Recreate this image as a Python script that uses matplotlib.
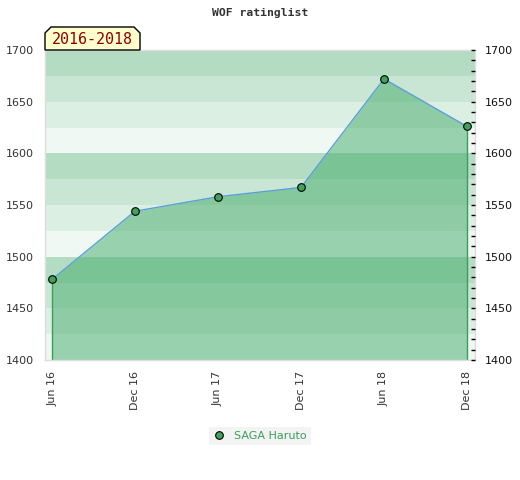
import matplotlib.pyplot as plt
from matplotlib.patches import Polygon
from matplotlib.ticker import MultipleLocator

# datos del grafico
periodos = ['Jun 16', 'Dec 16', 'Jun 17', 'Dec 17', 'Jun 18', 'Dec 18']
rating = [1478, 1544, 1558, 1567, 1672, 1626]
jugador = 'SAGA Haruto'
titulo = 'WOF ratinglist'
etiqueta = '2016-2018'

# colores de las franjas (de abajo hacia arriba en cada bloque de 100)
franjas = ['#eff8f2', '#dcefe3', '#c8e6d3', '#b3dcc2']

fig = plt.figure(figsize=(5.2, 4.8), dpi=100)
ax = fig.add_axes([45 / 520, 1 - 360 / 480, 430 / 520, 310 / 480])

ymin, ymax = 1400, 1700
for i, y0 in enumerate(range(ymin, ymax, 25)):
    ax.axhspan(y0, y0 + 25, color=franjas[i % 4], lw=0, zorder=0)

x = list(range(len(periodos)))
ax.fill_between(x, rating, ymin, color='#43ab69', alpha=0.5, lw=0, zorder=1)
ax.vlines([x[0], x[-1]], ymin, [rating[0], rating[-1]], color='#3a9e5a', lw=1, zorder=2)
ax.plot(x, rating, color='#5b9fd8', lw=1, zorder=3)
ax.plot(x, rating, 'o', color='#3fa35f', mec='black', mew=0.8, ms=5.5, zorder=4,
        label=jugador)

ax.set_xlim(-0.085, 5.096)
ax.set_ylim(ymin, ymax)
ax.set_xticks(x)
ax.set_xticklabels(periodos, rotation=90, fontsize=8, color='#333333')
ax.tick_params(axis='x', length=0, pad=8)
ax.yaxis.set_major_locator(MultipleLocator(50))
ax.tick_params(axis='y', length=0, labelsize=8, labelcolor='#333333', pad=8)
for s in ax.spines.values():
    s.set_color('#dddddd')
    s.set_linewidth(1)

# eje derecho
ax2 = ax.twinx()
ax2.set_ylim(ymin, ymax)
ax2.yaxis.set_major_locator(MultipleLocator(50))
ax2.yaxis.set_minor_locator(MultipleLocator(10))
ax2.tick_params(axis='y', which='both', direction='in', length=3, width=1,
                labelsize=8, labelcolor='#111111', pad=7)
for s in ax2.spines.values():
    s.set_visible(False)

fig.text(0.5, 1 - 13 / 480, titulo, ha='center', va='center', fontsize=8.2,
         family='DejaVu Sans Mono', fontweight='bold', color='#333333')

# cuadro de la etiqueta con esquinas cortadas
pts = [(45, 50), (45, 33), (51, 27), (134, 27), (140, 33), (140, 50)]
pts = [(px / 520, 1 - py / 480) for px, py in pts]
fig.patches.append(Polygon(pts, closed=True, transform=fig.transFigure,
                           facecolor='#ffffcc', edgecolor='black', lw=1, zorder=5))
fig.text(92.5 / 520, 1 - 40 / 480, etiqueta, ha='center', va='center', fontsize=10.8,
         family='DejaVu Sans Mono', color='#8b0000', zorder=6)

leg = fig.legend(loc='center', bbox_to_anchor=(260 / 520, 1 - 436 / 480), fontsize=8,
                 frameon=True, fancybox=False, handletextpad=0.8, borderpad=0.4,
                 handlelength=1)
leg.get_frame().set_facecolor('#f0f0f0')
leg.get_frame().set_edgecolor('none')
for t in leg.get_texts():
    t.set_color('#3a9e5a')

fig.savefig('out.png', dpi=100)
